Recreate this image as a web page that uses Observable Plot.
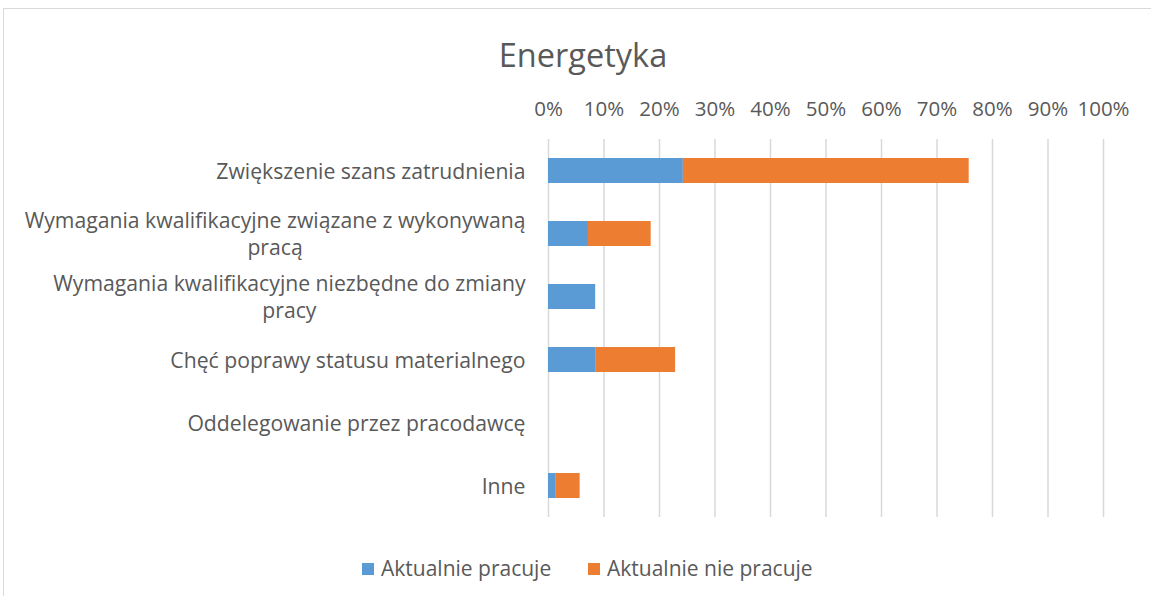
<!DOCTYPE html>
<html>
<head>
<meta charset="utf-8">
<script src="https://cdn.jsdelivr.net/npm/d3@7"></script>
<script src="https://cdn.jsdelivr.net/npm/@observablehq/plot@0.6"></script>
<style>
  html, body { margin: 0; padding: 0; background: #fff; }
  #wrap { position: relative; width: 1151px; height: 596px; overflow: hidden; font-family: "Open Sans", sans-serif; color: #595959; }
  #frame { position: absolute; left: 3px; top: 8px; width: 1200px; height: 700px; border: 1px solid #d9d9d9; box-sizing: border-box; }
  #title { position: absolute; left: 0; width: 1166px; top: 33px; text-align: center; font-size: 32.5px; line-height: 44px; }
  #chart { position: absolute; left: 0; top: 0; }
  #legend { position: absolute; top: 554px; left: 0; width: 1151px; font-size: 21px; line-height: 28px; }
  .item { position: absolute; top: 0; white-space: nowrap; }
  .sw { display: inline-block; width: 12px; height: 12px; margin-right: 7px; vertical-align: 1px; }
</style>
</head>
<body>
<div id="wrap">
  <div id="frame"></div>
  <div id="title">Energetyka</div>
  <div id="chart"></div>
  <div id="legend"></div>
</div>
<script>
const categories = [
  "Zwiększenie szans zatrudnienia",
  "Wymagania kwalifikacyjne związane z wykonywaną\npracą",
  "Wymagania kwalifikacyjne niezbędne do zmiany\npracy",
  "Chęć poprawy statusu materialnego",
  "Oddelegowanie przez pracodawcę",
  "Inne"
];
const seriesNames = ["Aktualnie pracuje", "Aktualnie nie pracuje"];
const seriesColors = ["#5B9BD5", "#ED7D31"];
const pracuje = [0.243, 0.072, 0.085, 0.085, 0, 0.014];
const niePracuje = [0.515, 0.113, 0, 0.144, 0, 0.043];
const xTicks = [0, 0.1, 0.2, 0.3, 0.4, 0.5, 0.6, 0.7, 0.8, 0.9, 1];

const rows = [];
categories.forEach((c, i) => {
  rows.push({cat: c, series: seriesNames[0], value: pracuje[i]});
  rows.push({cat: c, series: seriesNames[1], value: niePracuje[i]});
});

const chart = Plot.plot({
  width: 1151,
  height: 540,
  marginTop: 139,
  marginBottom: 23,
  marginLeft: 548,
  marginRight: 48,
  style: {fontFamily: "Open Sans, sans-serif", color: "#595959", background: "transparent", overflow: "visible"},
  x: {domain: [0, 1], axis: null},
  y: {domain: categories, axis: null, paddingInner: 0.6, paddingOuter: 0.3},
  color: {domain: seriesNames, range: seriesColors},
  marks: [
    Plot.gridX(xTicks, {stroke: "#d9d9d9", strokeOpacity: 1, strokeWidth: 1.5}),
    Plot.axisX(xTicks, {anchor: "top", tickSize: 0, tickPadding: 24, tickFormat: d3.format(".0%"), fontSize: 20.5, fill: "#595959", label: null}),
    Plot.barX(rows, {y: "cat", x: "value", fill: "series", order: seriesNames}),
    Plot.text(categories, {y: d => d, frameAnchor: "left", textAnchor: "end", dx: -23, dy: -1, text: d => d, fontSize: 21.2, lineHeight: 1.28, fill: "#595959"})
  ]
});
document.getElementById("chart").appendChild(chart);

// center multi-line category labels like the original
chart.querySelectorAll("text").forEach(t => {
  const spans = t.querySelectorAll("tspan");
  if (spans.length > 1) {
    let w = 0;
    spans.forEach(s => { w = Math.max(w, s.getComputedTextLength()); });
    t.setAttribute("text-anchor", "middle");
    spans.forEach(s => s.setAttribute("x", -w / 2));
  }
});

const legend = document.getElementById("legend");
const lx = [362, 588];
seriesNames.forEach((n, i) => {
  const it = document.createElement("div");
  it.className = "item";
  it.style.left = lx[i] + "px";
  it.innerHTML = `<span class="sw" style="background:${seriesColors[i]}"></span>${n}`;
  legend.appendChild(it);
});
</script>
</body>
</html>
